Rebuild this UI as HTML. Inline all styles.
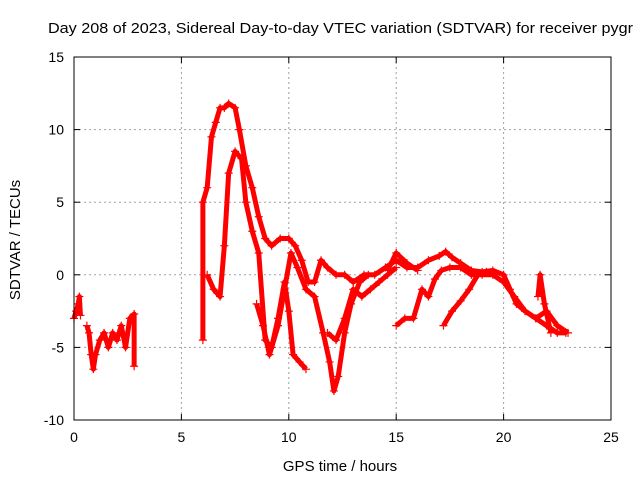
<!DOCTYPE html>
<html><head><meta charset="utf-8"><style>
body{margin:0;background:#fff;}
svg{display:block;font-family:"Liberation Sans",sans-serif;}
</style></head><body>
<svg id="chart" width="640" height="480" viewBox="0 0 640 480">
<text x="48" y="33" font-size="15" fill="#000" textLength="585" lengthAdjust="spacingAndGlyphs">Day 208 of 2023, Sidereal Day-to-day VTEC variation (SDTVAR) for receiver pygr</text>
<g id="grid"></g>
<g id="series"></g>
<rect x="74" y="57" width="537" height="363" fill="none" stroke="#000" stroke-width="1"/>
<g id="ticks"></g>
<text x="340" y="471" font-size="15" text-anchor="middle">GPS time / hours</text>
<text transform="translate(20,240) rotate(-90)" font-size="15" text-anchor="middle">SDTVAR / TECUs</text>
</svg>
<script>
const xTicks=[0,5,10,15,20,25];
const yTicks=[-10,-5,0,5,10,15];
const track1=[[0,-3],[0.1,-2.5],[0.2,-2],[0.25,-1.5],[0.3,-2.8]];
const track2=[[0.6,-3.5],[0.7,-4],[0.8,-5.5],[0.9,-6.5],[1.0,-5.5],[1.2,-4.5],[1.4,-4],[1.6,-5],[1.8,-4],[2.0,-4.5],[2.2,-3.5],[2.4,-5],[2.6,-3],[2.8,-2.7],[2.8,-6.3]];
const track3=[[6.0,-4.5],[6.0,5],[6.2,6],[6.4,9.5],[6.6,10.5],[6.8,11.5],[7.0,11.5],[7.2,11.8],[7.5,11.5],[7.7,10],[8.0,7.5],[8.3,6],[8.6,4],[8.9,2.5],[9.2,2],[9.6,2.5],[10,2.5],[10.3,2],[10.6,1],[10.9,-0.5],[11.2,-0.5],[11.5,1],[11.8,0.5],[12.2,0],[12.6,0],[13,-0.5],[13.5,0],[14,0],[14.5,0.5],[15,1],[15.5,0.5],[16,0.5],[16.5,1],[17,1.3],[17.3,1.6],[17.6,1.2],[18,0.8],[18.5,0.3],[19,0.2],[19.5,0.3],[20,0],[20.3,-1],[20.6,-2],[21,-2.5],[21.5,-3],[22,-3.5],[22.5,-4],[22.9,-4]];
const track4=[[6.2,0],[6.5,-1],[6.8,-1.5],[7.0,2],[7.2,7],[7.5,8.5],[7.8,8],[8.0,5],[8.3,3],[8.6,1.5],[8.9,-4.5],[9.2,-5],[9.5,-3],[9.8,-0.5],[10,-2.5],[10.2,-5.5],[10.5,-6],[10.8,-6.5]];
const track5=[[8.5,-2],[8.8,-3.5],[9.1,-5.5],[9.5,-3.5],[9.8,-1],[10.1,1.5],[10.4,0.5],[10.8,-1],[11.2,-1.5],[11.6,-4],[11.9,-6],[12.1,-8],[12.3,-7],[12.6,-4],[12.9,-2],[13.3,-0.5],[13.7,0]];
const track6=[[11.8,-4],[12.2,-4.5],[12.6,-3],[13,-1],[13.4,-1.5],[13.8,-1],[14.2,-0.5],[14.6,0],[15,0.5]];
const track7=[[15,-3.5],[15.4,-3],[15.8,-3],[16.2,-1],[16.5,-1.5],[16.8,-0.3],[17.1,0.3],[17.5,0.5],[18,0.5],[18.5,0],[19,0],[19.5,0],[20,-0.5],[20.5,-1.5],[21,-2.5],[21.5,-3],[22,-2.5],[22.5,-3.5],[23,-4]];
const track8=[[17.2,-3.5],[17.6,-2.5],[18,-1.8],[18.4,-1],[18.8,0],[19.2,0.2]];
const track9=[[14.6,0.3],[15,1.5],[15.5,0.8],[16,0.3]];
const track10=[[21.6,-1.5],[21.7,0],[21.9,-2],[22.2,-4]];
const tracks=[track1,track2,track3,track4,track5,track6,track7,track8,track9,track10];
const NS="http://www.w3.org/2000/svg";
const X=v=>74+v*(537/25), Y=v=>420-(v+10)*(363/25);
const grid=document.getElementById('grid'),ticks=document.getElementById('ticks'),ser=document.getElementById('series');
function mk(t,a,p){const e=document.createElementNS(NS,t);for(const k in a)e.setAttribute(k,a[k]);p.appendChild(e);return e;}
xTicks.forEach(v=>{
 if(v>0&&v<25){const g=mk('line',{x1:X(v),x2:X(v),y1:57,y2:420,stroke:'#a0a0a0','stroke-dasharray':'2,3'},grid);
 
 }
 const t=mk('text',{x:X(v),y:442,'font-size':14,'text-anchor':'middle'},ticks);t.textContent=v;
 
 
 mk('line',{x1:X(v),x2:X(v),y1:420,y2:414,stroke:'#000'},ticks);
 mk('line',{x1:X(v),x2:X(v),y1:57,y2:63,stroke:'#000'},ticks);
});
yTicks.forEach(v=>{
 if(v>-10&&v<15){const g=mk('line',{x1:74,x2:611,y1:Y(v),y2:Y(v),stroke:'#a0a0a0','stroke-dasharray':'2,3'},grid);
 
 }
 const t=mk('text',{x:64,y:Y(v)+5,'font-size':14,'text-anchor':'end'},ticks);t.textContent=v;
 
 
 mk('line',{x1:74,x2:80,y1:Y(v),y2:Y(v),stroke:'#000'},ticks);
 mk('line',{x1:605,x2:611,y1:Y(v),y2:Y(v),stroke:'#000'},ticks);
});
tracks.forEach(tr=>{
 const pl=mk('polyline',{points:tr.map(p=>X(p[0])+','+Y(p[1])).join(' '),fill:'none',stroke:'#f00','stroke-width':5,'stroke-linejoin':'round'},ser);
 
 
 tr.forEach(p=>{
  const x=X(p[0]),y=Y(p[1]);
  const m=mk('path',{d:`M${x-4},${y}H${x+4}M${x},${y-4}V${y+4}`,stroke:'#f00','stroke-width':1.2},ser);
  
  
 });
});
</script>
</body></html>
